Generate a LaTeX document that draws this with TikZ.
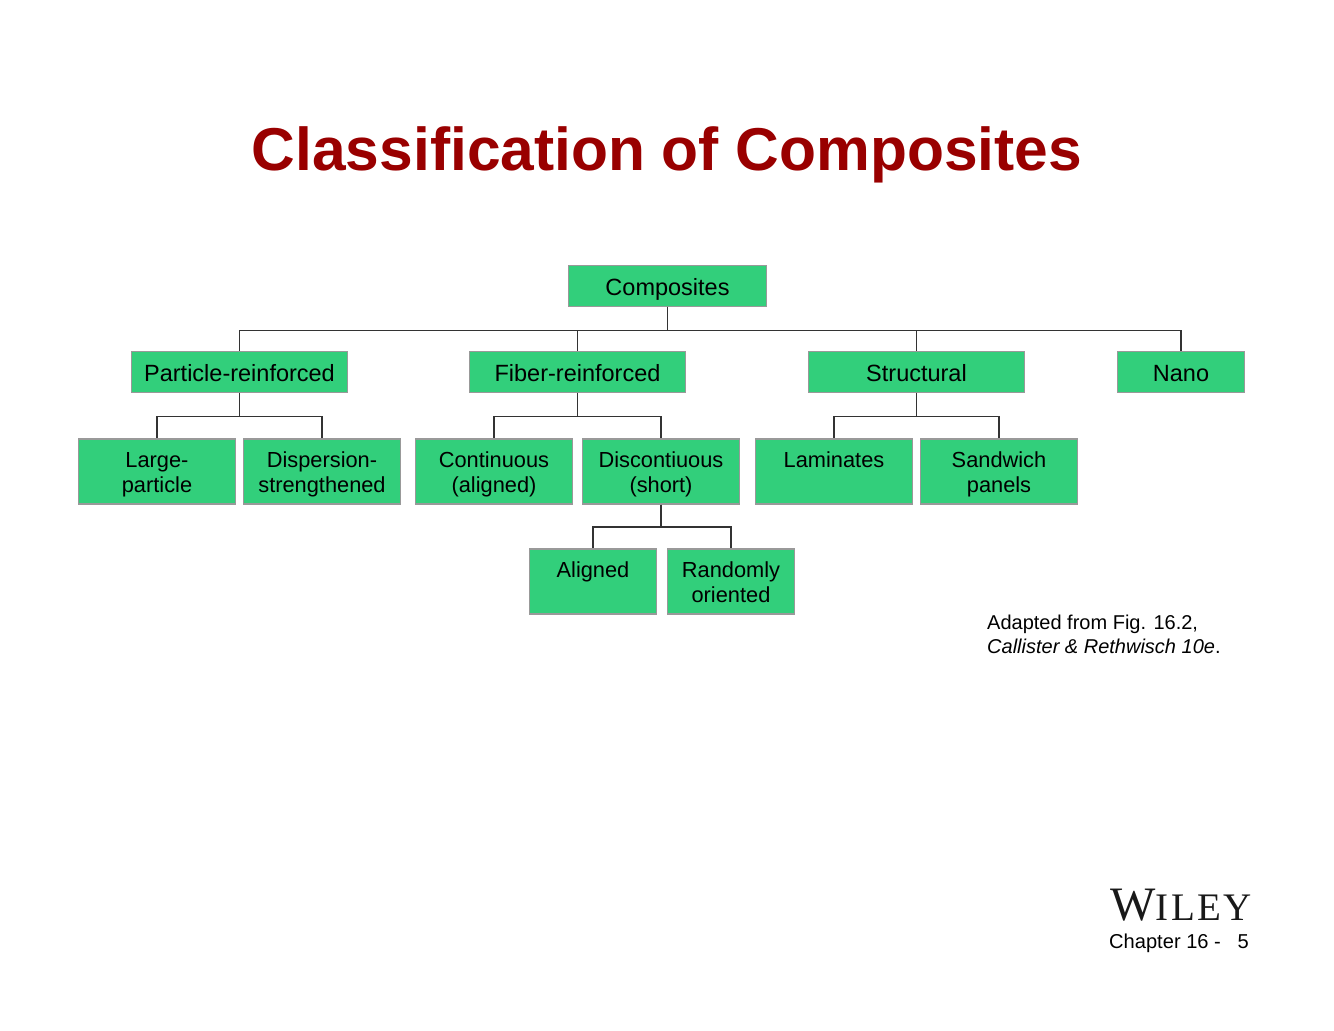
\documentclass[tikz,border=0pt]{standalone}
\usepackage{fontspec}
\setmainfont{Liberation Sans}
\newfontfamily\logofont{Liberation Serif}
\definecolor{boxgreen}{HTML}{32CF7B}
\definecolor{titlered}{HTML}{990000}
\newcommand{\twolines}[2]{\rule{0pt}{23pt}#1\\#2\rule[-6pt]{0pt}{6pt}}
\tikzset{
    classbox/.style={draw=black!40, line width=1.3pt, fill=boxgreen, align=center, inner sep=0pt, text=black},
    headbox/.style={classbox, minimum height=40.5pt, text height=19pt, text depth=0pt,
        font=\fontsize{23.5}{25}\selectfont},
    twobox/.style={classbox, minimum width=157pt, minimum height=65pt, font=\fontsize{21.8}{25}\selectfont},
    lastbox/.style={classbox, minimum width=127pt, minimum height=65pt, font=\fontsize{21.8}{25}\selectfont},
    wire/.style={draw=black!80, line width=1.5pt}
}
\begin{document}
\begin{tikzpicture}[x=1pt, y=-1pt]
    \useasboundingbox (0,0) rectangle (1334,1031);
    \node (title) [font=\fontsize{60.5}{60}\selectfont\bfseries, text=titlered] at (667,155) {Classification of Composites};
    \node (comp) [headbox, minimum width=198pt] at (667.5,286) {Composites};
    \node (part) [headbox, minimum width=216pt] at (239.5,372) {Particle-reinforced};
    \node (fiber) [headbox, minimum width=216pt] at (577.5,372) {Fiber-reinforced};
    \node (struct) [headbox, minimum width=216pt] at (916.5,372) {Structural};
    \node (nano) [headbox, minimum width=127pt] at (1181,372) {Nano};
    \node (large) [twobox] at (157,471.5) {\twolines{Large-}{particle}};
    \node (disp) [twobox] at (322,471.5) {\twolines{Dispersion-}{strengthened}};
    \node (cont) [twobox] at (494,471.5) {\twolines{Continuous}{(aligned)}};
    \node (disc) [twobox] at (661,471.5) {\twolines{Discontiuous}{(short)}};
    \node (lam) [twobox] at (834,471.5) {\twolines{Laminates}{}};
    \node (sand) [twobox] at (999,471.5) {\twolines{Sandwich}{panels}};
    \node (alig) [lastbox] at (593,581.5) {\twolines{Aligned}{}};
    \node (rand) [lastbox] at (731,581.5) {\twolines{Randomly}{oriented}};
    \foreach \kid in {part,fiber,struct,nano}
        \draw[wire] (comp.south) -- ++(0,23.5) -| (\kid.north);
    \foreach \kid in {large,disp}
        \draw[wire] (part.south) -- ++(0,23.5) -| (\kid.north);
    \foreach \kid in {cont,disc}
        \draw[wire] (fiber.south) -- ++(0,23.5) -| (\kid.north);
    \foreach \kid in {lam,sand}
        \draw[wire] (struct.south) -- ++(0,23.5) -| (\kid.north);
    \foreach \kid in {alig,rand}
        \draw[wire] (disc.south) -- ++(0,22.5) -| (\kid.north);
    \node (src) [anchor=north west, align=left, inner sep=0pt, font=\fontsize{20}{24}\selectfont] at (987,615) {Adapted from Fig. 16.2,\\\textit{Callister \& Rethwisch 10e}.};
    \node (logo) [anchor=base, inner sep=0pt, text=black!90, font=\logofont] at (1181,920) {\addfontfeature{LetterSpace=6}\fontsize{48}{48}\selectfont W\fontsize{39}{39}\selectfont ILEY};
    \node (chap) [anchor=base west, inner sep=0pt, font=\fontsize{20.1}{24}\selectfont] at (1109,948) {Chapter 16 -\ \ \ 5};
\end{tikzpicture}
\end{document}
